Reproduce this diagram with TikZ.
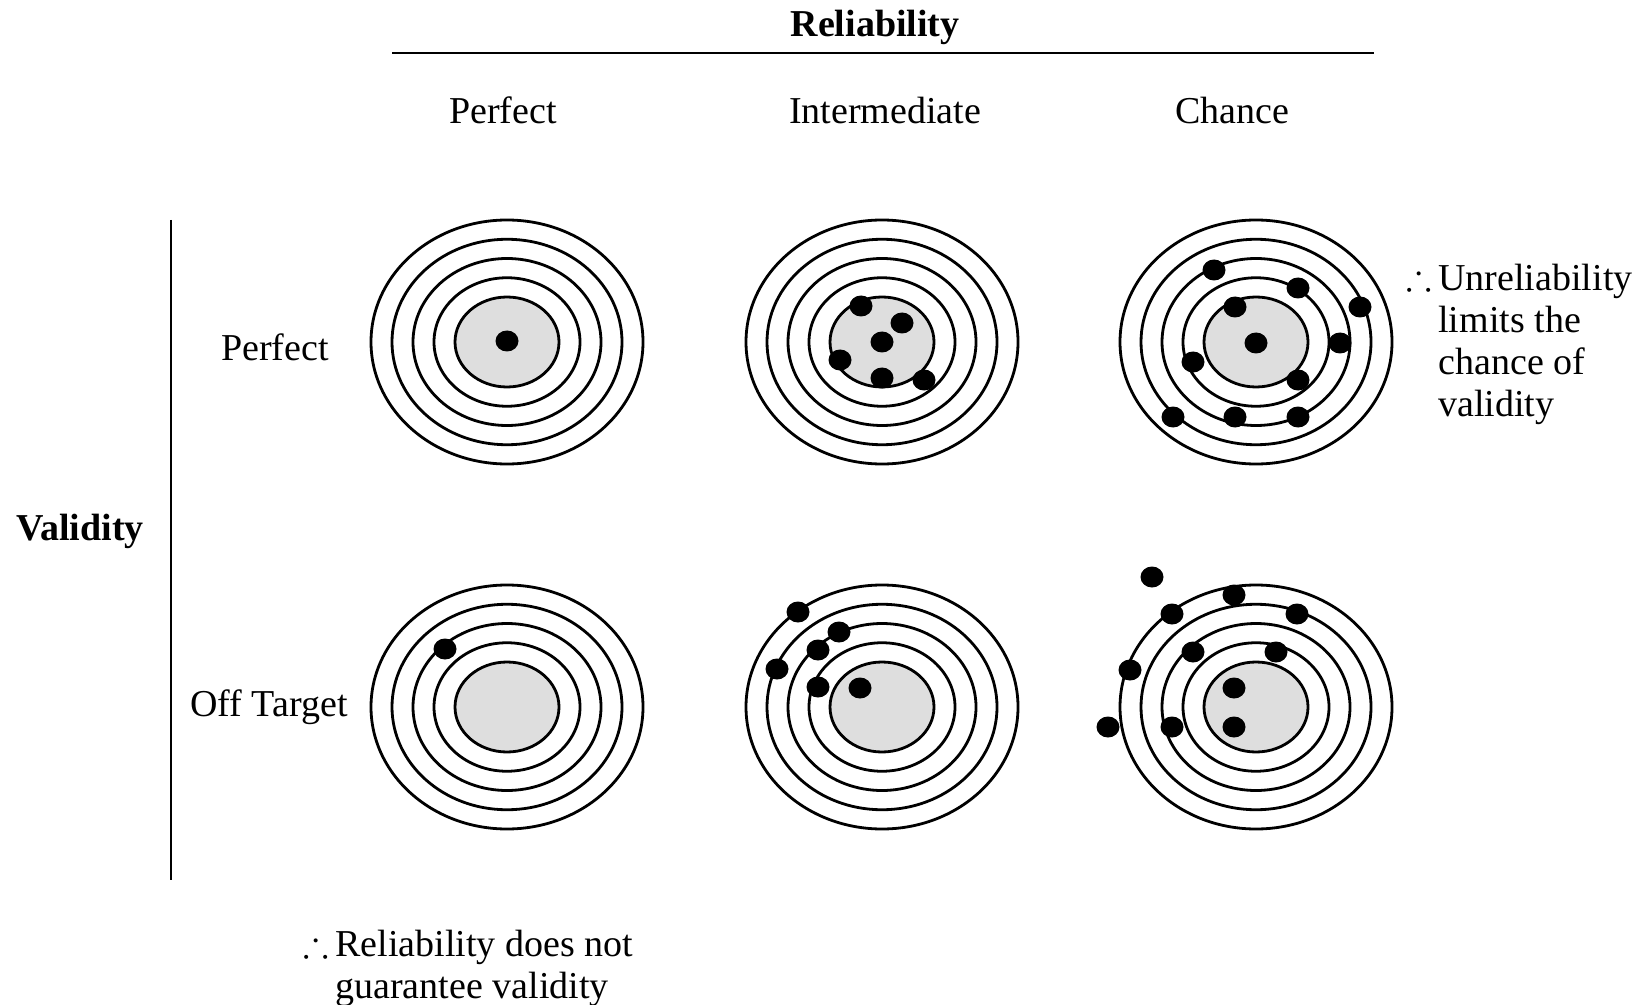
\documentclass[tikz,border=0pt]{standalone}
\usepackage{amsmath,amssymb}
\usepackage{fontspec}
\setmainfont{Liberation Serif}
\usepackage{tikz}
\usetikzlibrary{positioning}

\begin{document}
\begin{tikzpicture}[
  x=0.5pt, y=-0.5pt,
  font=\fontsize{19}{21}\selectfont,
  every node/.style={inner sep=0pt},
  head/.style={anchor=base, font=\fontsize{19}{21}\selectfont\bfseries},
  lab/.style={anchor=base},
  note/.style={anchor=base west, align=left},
  rule/.style={line width=1.4pt},
  ring/.style={line width=1.4pt},
  bull/.style={fill=black},
  bullseye/.style={fill=black!13},
]
\useasboundingbox (0,0) rectangle (1642,1005);

\node[head] (rel) at (875,37) {Reliability};
\coordinate (rl) at (392,53);
\coordinate (rr) at (1374,53);
\draw[rule] (rl) -- (rr);
\node[lab] (cperf) at (503,124) {Perfect};
\node[lab] (cint) at (885,124) {Intermediate};
\node[lab] (cchance) at (1232,124) {Chance};

\node[head] (val) at (80,540) {Validity};
\coordinate (vt) at (171,220);
\coordinate (vb) at (171,880);
\draw[rule] (vt) -- (vb);
\node[lab] (rperf) at (275,361) {Perfect};
\node[lab] (roff) at (269,716) {Off Target};

\foreach \cx/\cy in {507/342, 882/342, 1256/342, 507/707, 882/707, 1256/707}{
  \fill[bullseye] (\cx,\cy) ellipse [x radius=52, y radius=45];
  \foreach \k in {0,...,4}
    \draw[ring] (\cx,\cy) ellipse [x radius={52+21*\k}, y radius={45+19.25*\k}];
}

\foreach \p in {(507,341),
  (861,306), (902,323), (882,342), (840,360), (882,378), (924,380),
  (1214,270), (1298,288), (1360,307), (1235,307), (1256,343), (1340,343),
  (1193,362), (1298,380), (1173,417), (1235,417), (1298,417),
  (445,649),
  (798,612), (839,632), (818,650), (777,669), (818,687), (860,688),
  (1152,577), (1234,595), (1172,614), (1297,614), (1193,652), (1276,652),
  (1130,670), (1234,688), (1108,727), (1172,727), (1234,727)}
  \fill[bull] \p ellipse [x radius=11.5, y radius=10.5];

\node[note] (unrel) at (1438,416) {Unreliability\\limits the\\chance of\\validity};
\node[anchor=base east] (unreldot) at ([xshift=-3pt, yshift=63pt]unrel.base west) {$\therefore$};
\node[note] (relnot) at (335,998) {Reliability does not\\guarantee validity};
\node[anchor=base east] (relnotdot) at ([xshift=-3pt, yshift=21pt]relnot.base west) {$\therefore$};
\end{tikzpicture}
\end{document}
